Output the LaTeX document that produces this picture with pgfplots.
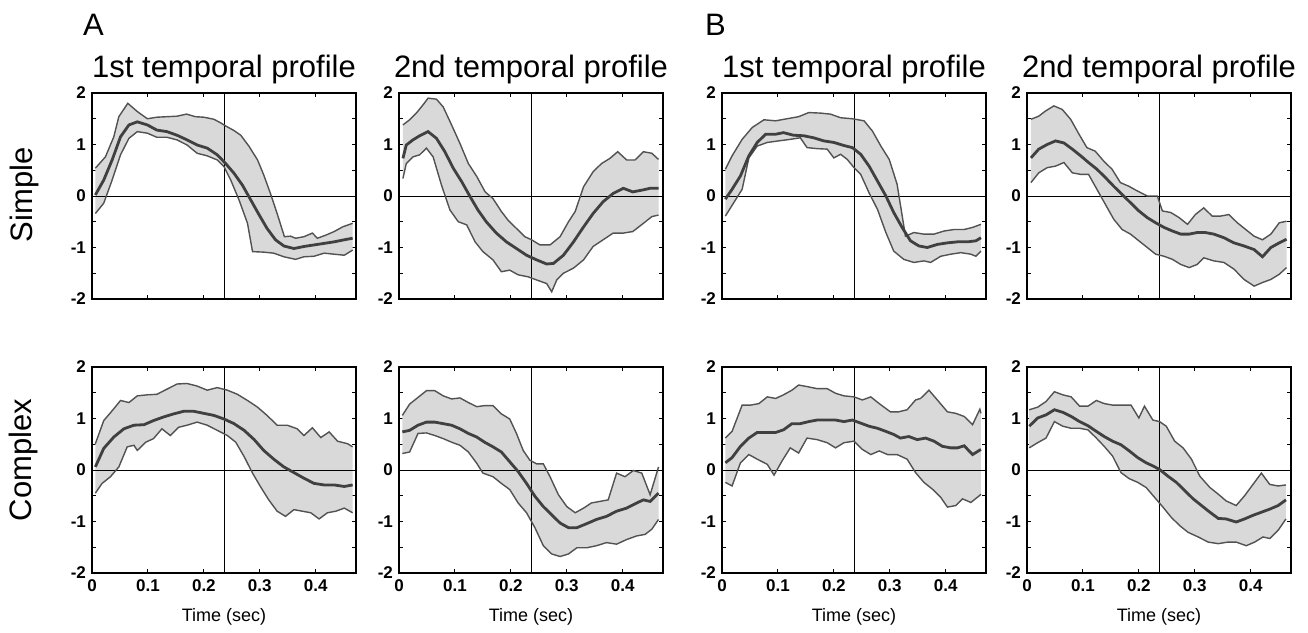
\documentclass[border=0pt]{standalone}
\usepackage{pgfplots}
\pgfplotsset{compat=1.18}
\usepgfplotslibrary{fillbetween}
\usepackage{fontspec}
\setmainfont{Liberation Sans}

\definecolor{bandfill}{gray}{0.85}
\definecolor{bandline}{gray}{0.32}
\definecolor{meanline}{gray}{0.25}

\pgfplotsset{
  panel/.style={
    scale only axis, width=132pt, height=103pt, anchor=south west,
    xmin=0, xmax=0.472, ymin=-2, ymax=2,
    xtick={0,0.1,0.2,0.3,0.4}, xticklabels={0,0.1,0.2,0.3,0.4},
    ytick={-2,-1,0,1,2}, yticklabels={-2,-1,0,1,2},
    minor ytick={-1.5,-0.5,0.5,1.5},
    tick align=inside, major tick length=2pt, minor tick length=2pt,
    axis line style={line width=0.6pt},
    tick style={black, line width=0.5pt},
    tick label style={font=\bfseries\fontsize{8.5}{9}\selectfont},
    yticklabel style={xshift=0.5pt},
    title style={font=\fontsize{15.5}{16}\selectfont, yshift=-5pt},
    xlabel style={font=\fontsize{9}{10}\selectfont, yshift=-1.5pt},
  },
  toprow/.style={xticklabels={}},
  botrow/.style={xlabel={Time (sec)}},
  band/.style={bandline, line width=0.7pt},
  avg/.style={meanline, line width=1.4pt},
}

% #1 x, #2 y, #3 options, #4 upper, #5 mean, #6 lower
\newcommand{\panel}[6]{%
\begin{axis}[panel, at={(#1,#2)}, #3]
\addplot[draw=none, name path=up] coordinates {#4};
\addplot[draw=none, name path=lo] coordinates {#6};
\addplot[fill=bandfill, draw=none] fill between[of=up and lo];
\addplot[black, line width=0.5pt] coordinates {(0,0) (0.472,0)};
\addplot[black, line width=0.5pt] coordinates {(0.2375,-2) (0.2375,2)};
\addplot[band] coordinates {#4};
\addplot[band] coordinates {#6};
\addplot[avg] coordinates {#5};
\end{axis}}

\begin{document}
\begin{tikzpicture}
\path (0,0) rectangle (654pt,313.5pt);

\node[anchor=base west, font=\fontsize{15.5}{16}\selectfont] at (38pt,296pt) {A};
\node[anchor=base west, font=\fontsize{15.5}{16}\selectfont] at (349pt,296pt) {B};
\node[rotate=90, font=\fontsize{15.5}{16}\selectfont] at (12pt,216pt) {Simple};
\node[rotate=90, font=\fontsize{15.5}{16}\selectfont] at (11.5pt,83.5pt) {Complex};

% A, simple, 1st
\panel{46pt}{164pt}{toprow, title={1st temporal profile}}
{(0.006,0.54)(0.024,0.76)(0.039,1.15)(0.048,1.54)(0.064,1.8)(0.081,1.64)(0.099,1.5)(0.116,1.53)(0.134,1.54)(0.152,1.55)(0.169,1.59)(0.185,1.54)(0.2,1.53)(0.218,1.49)(0.23,1.42)(0.239,1.36)(0.254,1.27)(0.266,1.18)(0.281,0.96)(0.296,0.70)(0.307,0.41)(0.319,0.05)(0.331,-0.34)(0.344,-0.79)(0.355,-0.78)(0.364,-0.82)(0.379,-0.79)(0.394,-0.72)(0.403,-0.82)(0.418,-0.76)(0.433,-0.69)(0.448,-0.6)(0.466,-0.53)}
{(0.006,0.02)(0.021,0.31)(0.036,0.70)(0.051,1.15)(0.066,1.38)(0.081,1.44)(0.099,1.38)(0.116,1.28)(0.134,1.25)(0.152,1.18)(0.17,1.09)(0.188,0.99)(0.206,0.93)(0.224,0.8)(0.239,0.63)(0.254,0.44)(0.269,0.21)(0.284,-0.08)(0.299,-0.37)(0.313,-0.63)(0.328,-0.85)(0.343,-0.97)(0.361,-1.02)(0.379,-0.98)(0.397,-0.95)(0.415,-0.92)(0.433,-0.89)(0.451,-0.85)(0.466,-0.82)}
{(0.006,-0.34)(0.021,-0.14)(0.036,0.31)(0.051,0.80)(0.066,1.12)(0.081,1.25)(0.099,1.22)(0.116,1.14)(0.134,1.14)(0.152,1.09)(0.17,0.99)(0.188,0.83)(0.206,0.78)(0.224,0.70)(0.236,0.57)(0.248,0.31)(0.263,-0.08)(0.278,-0.53)(0.287,-1.08)(0.307,-1.09)(0.325,-1.11)(0.343,-1.18)(0.364,-1.23)(0.379,-1.18)(0.397,-1.17)(0.415,-1.11)(0.433,-1.13)(0.451,-1.15)(0.457,-1.11)(0.466,-1.05)}

% A, simple, 2nd
\panel{199.5pt}{164pt}{toprow, title={2nd temporal profile}}
{(0.007,1.38)(0.019,1.48)(0.031,1.61)(0.043,1.77)(0.052,1.9)(0.067,1.88)(0.079,1.73)(0.094,1.38)(0.109,1.02)(0.124,0.63)(0.139,0.38)(0.154,0.08)(0.168,-0.05)(0.183,-0.3)(0.195,-0.47)(0.21,-0.63)(0.225,-0.79)(0.237,-0.85)(0.252,-0.95)(0.27,-0.95)(0.288,-0.79)(0.303,-0.5)(0.315,-0.3)(0.33,0.18)(0.347,0.47)(0.362,0.63)(0.377,0.73)(0.391,0.86)(0.407,0.7)(0.422,0.7)(0.437,0.86)(0.452,0.83)(0.464,0.71)}
{(0.007,0.73)(0.013,0.99)(0.025,1.09)(0.037,1.17)(0.052,1.25)(0.067,1.12)(0.082,0.86)(0.097,0.54)(0.112,0.28)(0.127,-0.01)(0.141,-0.27)(0.156,-0.5)(0.174,-0.72)(0.192,-0.89)(0.21,-1.02)(0.228,-1.15)(0.246,-1.24)(0.264,-1.32)(0.276,-1.31)(0.294,-1.15)(0.312,-0.89)(0.33,-0.6)(0.347,-0.34)(0.365,-0.11)(0.383,0.05)(0.401,0.15)(0.418,0.08)(0.437,0.12)(0.449,0.15)(0.464,0.15)}
{(0.007,0.34)(0.013,0.63)(0.025,0.76)(0.037,0.8)(0.049,0.93)(0.061,0.76)(0.076,0.21)(0.091,-0.27)(0.106,-0.5)(0.121,-0.56)(0.136,-0.89)(0.15,-1.08)(0.168,-1.24)(0.183,-1.47)(0.198,-1.44)(0.213,-1.53)(0.231,-1.57)(0.246,-1.63)(0.264,-1.7)(0.273,-1.86)(0.282,-1.63)(0.294,-1.5)(0.312,-1.4)(0.33,-1.24)(0.347,-0.98)(0.365,-0.85)(0.383,-0.72)(0.401,-0.72)(0.418,-0.69)(0.437,-0.53)(0.452,-0.4)(0.464,-0.37)}

% B, simple, 1st
\panel{361pt}{164pt}{toprow, title={1st temporal profile}}
{(0.006,0.52)(0.018,0.78)(0.036,1.1)(0.054,1.33)(0.075,1.48)(0.096,1.46)(0.116,1.5)(0.137,1.54)(0.155,1.62)(0.176,1.61)(0.194,1.59)(0.212,1.52)(0.233,1.5)(0.254,1.46)(0.269,1.26)(0.284,0.97)(0.299,0.71)(0.313,0.23)(0.328,-0.78)(0.343,-0.71)(0.361,-0.74)(0.379,-0.74)(0.397,-0.68)(0.415,-0.65)(0.433,-0.65)(0.448,-0.61)(0.463,-0.55)}
{(0.006,-0.06)(0.018,0.13)(0.033,0.39)(0.048,0.78)(0.063,1.04)(0.078,1.2)(0.096,1.2)(0.11,1.23)(0.128,1.18)(0.146,1.17)(0.164,1.13)(0.182,1.07)(0.2,1.04)(0.218,0.98)(0.233,0.94)(0.248,0.81)(0.263,0.58)(0.278,0.29)(0.293,0.0)(0.307,-0.32)(0.322,-0.61)(0.337,-0.87)(0.352,-0.97)(0.367,-1.0)(0.385,-0.94)(0.403,-0.91)(0.421,-0.89)(0.439,-0.89)(0.454,-0.87)(0.463,-0.81)}
{(0.006,-0.39)(0.021,-0.13)(0.036,0.13)(0.048,0.74)(0.063,0.97)(0.081,1.04)(0.101,1.07)(0.122,1.1)(0.14,1.13)(0.152,0.94)(0.17,0.92)(0.188,0.91)(0.2,0.74)(0.212,0.81)(0.224,0.71)(0.236,0.55)(0.248,0.42)(0.263,0.06)(0.278,-0.26)(0.293,-0.71)(0.307,-1.07)(0.325,-1.23)(0.343,-1.29)(0.361,-1.26)(0.373,-1.29)(0.391,-1.17)(0.409,-1.13)(0.427,-1.1)(0.445,-1.13)(0.454,-1.17)(0.463,-1.07)}

% B, simple, 2nd
\panel{513.5pt}{164pt}{toprow, title={2nd temporal profile}}
{(0.007,1.49)(0.021,1.55)(0.033,1.65)(0.048,1.75)(0.063,1.68)(0.078,1.49)(0.093,1.2)(0.107,0.94)(0.122,0.87)(0.137,0.68)(0.152,0.52)(0.167,0.26)(0.182,0.19)(0.197,0.1)(0.215,0.0)(0.233,0.0)(0.242,-0.29)(0.257,-0.32)(0.272,-0.42)(0.287,-0.55)(0.301,-0.36)(0.316,-0.23)(0.331,-0.39)(0.346,-0.39)(0.361,-0.36)(0.376,-0.52)(0.391,-0.65)(0.406,-0.78)(0.421,-0.85)(0.436,-0.74)(0.451,-0.52)(0.464,-0.49)}
{(0.007,0.74)(0.021,0.91)(0.036,1.0)(0.051,1.07)(0.066,1.03)(0.081,0.91)(0.096,0.78)(0.11,0.65)(0.125,0.52)(0.14,0.36)(0.155,0.19)(0.17,0.03)(0.185,-0.13)(0.2,-0.29)(0.215,-0.42)(0.23,-0.52)(0.245,-0.61)(0.26,-0.68)(0.275,-0.74)(0.29,-0.74)(0.304,-0.71)(0.319,-0.71)(0.334,-0.74)(0.352,-0.81)(0.37,-0.91)(0.388,-0.97)(0.406,-1.04)(0.421,-1.18)(0.436,-1.0)(0.451,-0.91)(0.464,-0.84)}
{(0.007,0.26)(0.021,0.45)(0.036,0.55)(0.051,0.58)(0.066,0.65)(0.081,0.45)(0.096,0.42)(0.11,0.42)(0.125,0.13)(0.14,-0.16)(0.155,-0.45)(0.17,-0.65)(0.185,-0.74)(0.2,-0.87)(0.215,-1.0)(0.23,-1.13)(0.245,-1.17)(0.26,-1.23)(0.275,-1.33)(0.29,-1.39)(0.304,-1.33)(0.316,-1.2)(0.334,-1.26)(0.352,-1.29)(0.37,-1.42)(0.388,-1.62)(0.406,-1.75)(0.421,-1.68)(0.436,-1.62)(0.451,-1.52)(0.464,-1.39)}

% A, complex, 1st
\panel{46pt}{27pt}{botrow}
{(0.006,0.51)(0.021,0.96)(0.036,1.15)(0.051,1.35)(0.066,1.31)(0.081,1.44)(0.099,1.46)(0.116,1.47)(0.134,1.57)(0.152,1.67)(0.17,1.68)(0.188,1.63)(0.206,1.55)(0.224,1.6)(0.242,1.55)(0.26,1.47)(0.278,1.35)(0.296,1.22)(0.313,1.06)(0.331,0.87)(0.349,0.87)(0.367,0.8)(0.379,0.67)(0.394,0.82)(0.409,0.63)(0.424,0.74)(0.439,0.56)(0.457,0.51)(0.466,0.45)}
{(0.006,0.06)(0.021,0.42)(0.039,0.64)(0.057,0.8)(0.075,0.87)(0.093,0.88)(0.11,0.96)(0.128,1.03)(0.146,1.09)(0.164,1.14)(0.182,1.14)(0.2,1.1)(0.218,1.06)(0.236,0.99)(0.254,0.9)(0.272,0.77)(0.29,0.59)(0.307,0.38)(0.325,0.21)(0.343,0.06)(0.361,-0.05)(0.379,-0.16)(0.397,-0.26)(0.415,-0.29)(0.433,-0.29)(0.451,-0.32)(0.466,-0.29)}
{(0.006,-0.45)(0.018,-0.26)(0.033,-0.13)(0.048,0.06)(0.063,0.45)(0.075,0.48)(0.081,0.38)(0.096,0.54)(0.11,0.61)(0.125,0.8)(0.14,0.67)(0.155,0.83)(0.17,0.87)(0.188,0.93)(0.206,0.87)(0.224,0.77)(0.242,0.67)(0.257,0.54)(0.272,0.26)(0.287,-0.06)(0.301,-0.32)(0.316,-0.58)(0.331,-0.8)(0.346,-0.9)(0.361,-0.77)(0.376,-0.8)(0.391,-0.83)(0.406,-0.95)(0.421,-0.83)(0.436,-0.8)(0.451,-0.74)(0.466,-0.83)}

% A, complex, 2nd
\panel{199.5pt}{27pt}{botrow}
{(0.006,1.06)(0.019,1.28)(0.034,1.41)(0.049,1.54)(0.064,1.54)(0.079,1.44)(0.094,1.38)(0.109,1.4)(0.124,1.31)(0.139,1.23)(0.153,1.25)(0.168,1.25)(0.183,1.09)(0.198,0.99)(0.21,0.71)(0.222,0.38)(0.234,0.19)(0.246,0.12)(0.258,0.12)(0.27,-0.13)(0.285,-0.48)(0.3,-0.71)(0.315,-0.83)(0.33,-0.74)(0.344,-0.64)(0.359,-0.61)(0.374,-0.58)(0.389,-0.06)(0.404,-0.13)(0.419,-0.01)(0.434,-0.06)(0.449,-0.48)(0.464,0.06)}
{(0.006,0.74)(0.019,0.77)(0.034,0.87)(0.049,0.93)(0.064,0.93)(0.079,0.9)(0.094,0.87)(0.109,0.8)(0.124,0.71)(0.139,0.64)(0.153,0.54)(0.168,0.45)(0.183,0.35)(0.198,0.16)(0.213,-0.03)(0.228,-0.26)(0.243,-0.51)(0.258,-0.71)(0.273,-0.87)(0.288,-1.03)(0.303,-1.12)(0.318,-1.12)(0.336,-1.04)(0.353,-0.96)(0.371,-0.9)(0.389,-0.8)(0.407,-0.74)(0.425,-0.64)(0.437,-0.58)(0.449,-0.61)(0.464,-0.45)}
{(0.006,0.32)(0.019,0.35)(0.034,0.71)(0.049,0.72)(0.064,0.67)(0.079,0.61)(0.094,0.54)(0.109,0.48)(0.124,0.35)(0.139,0.13)(0.15,-0.06)(0.168,-0.13)(0.183,-0.26)(0.198,-0.38)(0.213,-0.64)(0.228,-0.83)(0.243,-1.12)(0.258,-1.47)(0.273,-1.63)(0.288,-1.68)(0.303,-1.63)(0.318,-1.51)(0.336,-1.51)(0.353,-1.47)(0.371,-1.41)(0.389,-1.44)(0.407,-1.35)(0.425,-1.28)(0.44,-1.25)(0.452,-1.15)(0.464,-0.96)}

% B, complex, 1st
\panel{361pt}{27pt}{botrow}
{(0.006,0.62)(0.018,0.75)(0.036,1.26)(0.051,1.26)(0.066,1.29)(0.081,1.42)(0.096,1.39)(0.11,1.46)(0.125,1.55)(0.137,1.65)(0.152,1.62)(0.17,1.58)(0.188,1.58)(0.203,1.49)(0.218,1.44)(0.236,1.42)(0.251,1.36)(0.266,1.42)(0.281,1.29)(0.301,1.13)(0.316,1.13)(0.331,1.17)(0.346,1.36)(0.355,1.39)(0.37,1.55)(0.385,1.36)(0.403,1.13)(0.418,1.1)(0.433,1.04)(0.448,0.88)(0.461,1.18)(0.463,1.1)}
{(0.006,0.14)(0.018,0.24)(0.033,0.46)(0.048,0.62)(0.063,0.73)(0.081,0.73)(0.096,0.73)(0.11,0.78)(0.125,0.9)(0.14,0.9)(0.155,0.94)(0.17,0.97)(0.188,0.97)(0.203,0.97)(0.218,0.94)(0.233,0.97)(0.248,0.91)(0.263,0.85)(0.278,0.81)(0.293,0.75)(0.307,0.69)(0.319,0.62)(0.334,0.65)(0.349,0.59)(0.364,0.62)(0.379,0.56)(0.394,0.46)(0.409,0.43)(0.421,0.43)(0.433,0.47)(0.448,0.3)(0.463,0.4)}
{(0.006,-0.24)(0.018,-0.31)(0.033,0.14)(0.048,0.3)(0.063,0.21)(0.081,0.11)(0.093,-0.1)(0.107,0.17)(0.122,0.43)(0.137,0.33)(0.152,0.62)(0.17,0.59)(0.188,0.53)(0.203,0.43)(0.218,0.53)(0.236,0.56)(0.251,0.4)(0.266,0.3)(0.281,0.37)(0.296,0.3)(0.313,0.3)(0.331,0.21)(0.346,-0.05)(0.361,-0.24)(0.376,-0.37)(0.391,-0.53)(0.403,-0.72)(0.418,-0.69)(0.43,-0.56)(0.445,-0.63)(0.46,-0.5)(0.463,-0.47)}

% B, complex, 2nd
\panel{513.5pt}{27pt}{botrow}
{(0.004,1.17)(0.019,1.22)(0.034,1.33)(0.049,1.52)(0.064,1.46)(0.079,1.42)(0.094,1.24)(0.109,1.24)(0.124,1.35)(0.138,1.29)(0.153,1.26)(0.168,1.26)(0.186,1.26)(0.2,1.01)(0.21,1.24)(0.225,0.97)(0.237,0.94)(0.249,0.85)(0.264,0.56)(0.279,0.43)(0.294,0.21)(0.309,-0.12)(0.327,-0.34)(0.342,-0.47)(0.356,-0.6)(0.374,-0.69)(0.389,-0.5)(0.404,-0.28)(0.419,-0.06)(0.434,-0.28)(0.449,-0.31)(0.463,-0.29)}
{(0.004,0.85)(0.019,1.01)(0.034,1.07)(0.049,1.17)(0.064,1.12)(0.079,1.04)(0.094,0.94)(0.109,0.86)(0.124,0.75)(0.138,0.65)(0.153,0.56)(0.168,0.49)(0.183,0.37)(0.198,0.24)(0.213,0.14)(0.225,0.08)(0.237,0.01)(0.252,-0.12)(0.267,-0.24)(0.282,-0.4)(0.297,-0.56)(0.312,-0.69)(0.327,-0.82)(0.342,-0.94)(0.356,-0.95)(0.374,-1.01)(0.389,-0.95)(0.404,-0.88)(0.419,-0.82)(0.434,-0.76)(0.449,-0.69)(0.463,-0.58)}
{(0.004,0.43)(0.019,0.53)(0.034,0.62)(0.049,0.94)(0.064,0.85)(0.079,0.81)(0.094,0.81)(0.109,0.78)(0.124,0.62)(0.138,0.46)(0.153,0.27)(0.168,-0.05)(0.183,-0.17)(0.198,-0.24)(0.213,-0.34)(0.228,-0.53)(0.243,-0.72)(0.258,-0.92)(0.273,-1.08)(0.288,-1.21)(0.306,-1.3)(0.324,-1.4)(0.342,-1.43)(0.359,-1.4)(0.374,-1.4)(0.392,-1.47)(0.407,-1.4)(0.422,-1.3)(0.434,-1.33)(0.449,-1.17)(0.463,-0.95)}

\end{tikzpicture}
\end{document}
